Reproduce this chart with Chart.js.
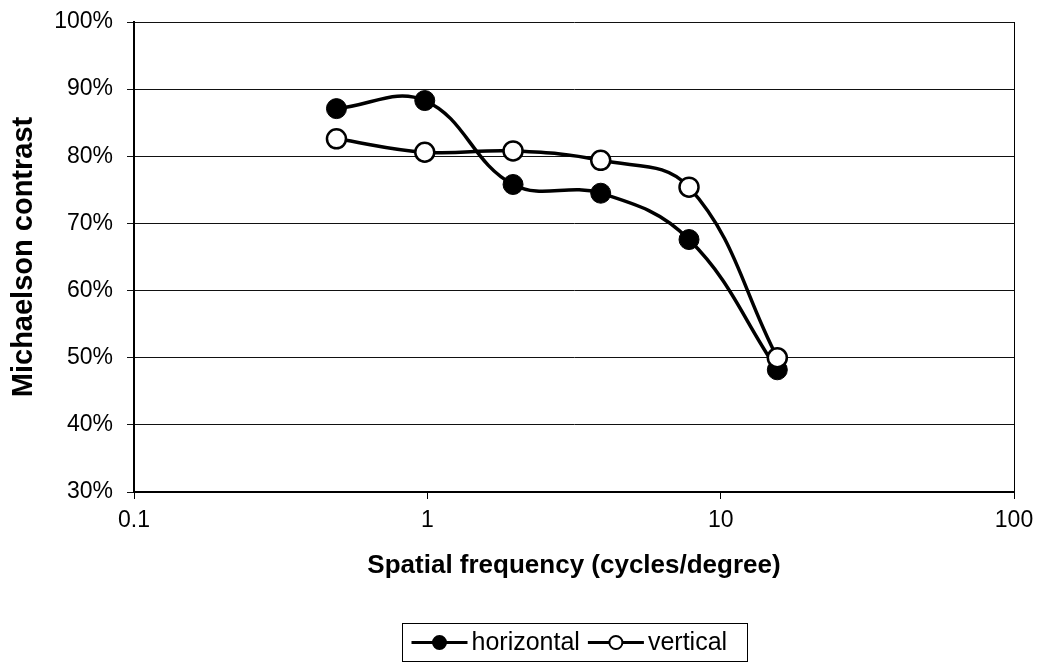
<!DOCTYPE html>
<html>
<head>
<meta charset="utf-8">
<script src="https://cdn.jsdelivr.net/npm/chart.js@4/dist/chart.umd.min.js"></script>
<style>
  html, body { margin: 0; padding: 0; background: #fff; }
  #wrap { width: 1042px; height: 669px; }
</style>
</head>
<body>
<div id="wrap"><canvas id="c" width="1042" height="669"></canvas></div>
<script>
// ---- data ----
const freqs = [0.49, 0.98, 1.96, 3.9, 7.8, 15.6];          // cycles/degree
const horizontal = [87.1, 88.3, 75.8, 74.5, 67.6, 48.2];  // % Michelson contrast
const vertical = [82.6, 80.6, 80.8, 79.4, 75.4, 50.0];
const seriesNames = ['horizontal', 'vertical'];
const xTickValues = [0.1, 1, 10, 100];
const xTickLabels = ['0.1', '1', '10', '100'];
const yMin = 30, yMax = 100, yStep = 10;
const xTitle = 'Spatial frequency (cycles/degree)';
const yTitle = 'Michaelson contrast';

const FONT = '"Liberation Sans", Arial, Helvetica, sans-serif';

const toPoints = (xs, ys) => xs.map((x, i) => ({ x: x, y: ys[i] }));

const frameAndLegend = {
  id: 'frameAndLegend',
  afterDraw(chart) {
    const ctx = chart.ctx;
    const a = chart.chartArea;
    ctx.save();
    // plot frame (right edge)
    ctx.strokeStyle = '#000';
    ctx.lineWidth = 1;
    ctx.beginPath();
    ctx.moveTo(Math.round(a.right) + 0.5, Math.round(a.top));
    ctx.lineTo(Math.round(a.right) + 0.5, Math.round(a.bottom));
    ctx.stroke();

    // legend with line + marker samples
    const ds = chart.data.datasets.slice().sort((p, q) => p.legendIndex - q.legendIndex);
    ctx.font = '25px ' + FONT;
    const seg = 56, gapText = 4, gapItem = 8, padL = 9, padR = 20;
    let total = padL + padR;
    const widths = ds.map(d => ctx.measureText(d.label).width);
    widths.forEach((w, i) => { total += seg + gapText + w + (i < ds.length - 1 ? gapItem : 0); });
    const cx = (a.left + a.right) / 2;
    const boxL = Math.round(cx - total / 2) + 0.5;
    const boxT = a.bottom + 131.5;
    const boxH = 38;
    ctx.lineWidth = 1;
    ctx.strokeStyle = '#000';
    ctx.strokeRect(boxL, boxT, Math.round(total), boxH);
    const cy = boxT + boxH / 2;
    let x = boxL + padL;
    ds.forEach((d, i) => {
      ctx.strokeStyle = '#000';
      ctx.lineWidth = 3;
      ctx.beginPath();
      ctx.moveTo(x, cy);
      ctx.lineTo(x + seg, cy);
      ctx.stroke();
      ctx.beginPath();
      ctx.arc(x + seg / 2, cy, 6.5, 0, Math.PI * 2);
      ctx.fillStyle = d.pointBackgroundColor;
      ctx.fill();
      ctx.lineWidth = 2;
      ctx.stroke();
      ctx.fillStyle = '#000';
      ctx.textBaseline = 'middle';
      ctx.textAlign = 'left';
      ctx.fillText(d.label, x + seg + gapText, cy + 1);
      x += seg + gapText + widths[i] + gapItem;
    });
    ctx.restore();
  }
};

new Chart(document.getElementById('c'), {
  type: 'scatter',
  data: {
    datasets: [
      {
        label: seriesNames[0],
        legendIndex: 0,
        data: toPoints(freqs, horizontal),
        showLine: true,
        borderColor: '#000',
        borderWidth: 3.5,
        tension: 0.4,
        pointRadius: 10,
        pointBackgroundColor: '#000',
        pointBorderColor: '#000',
        pointBorderWidth: 1,
        order: 2
      },
      {
        label: seriesNames[1],
        legendIndex: 1,
        data: toPoints(freqs, vertical),
        showLine: true,
        borderColor: '#000',
        borderWidth: 3.5,
        tension: 0.4,
        pointRadius: 9.5,
        pointBackgroundColor: '#fff',
        pointBorderColor: '#000',
        pointBorderWidth: 2.5,
        order: 1
      }
    ]
  },
  options: {
    responsive: false,
    animation: false,
    layout: { padding: { left: 0, right: 28, top: 22, bottom: 77 } },
    plugins: {
      legend: { display: false },
      tooltip: { enabled: false },
      title: { display: false }
    },
    scales: {
      x: {
        type: 'logarithmic',
        min: xTickValues[0],
        max: xTickValues[xTickValues.length - 1],
        afterBuildTicks: (scale) => { scale.ticks = xTickValues.map(v => ({ value: v, major: true })); },
        afterFit: (scale) => { scale.height = 100; },
        ticks: {
          autoSkip: false,
          maxRotation: 0,
          padding: 8,
          color: '#000',
          font: { family: FONT, size: 23 },
          callback: (v) => { const i = xTickValues.indexOf(v); return i >= 0 ? xTickLabels[i] : ''; }
        },
        grid: { display: true, drawOnChartArea: false, drawTicks: true, tickLength: 7, color: '#000', lineWidth: 1 },
        border: { display: true, color: '#000', width: 2 },
        title: {
          display: true,
          text: xTitle,
          color: '#000',
          font: { family: FONT, size: 26, weight: 'bold' },
          padding: { top: 0, bottom: 11 }
        }
      },
      y: {
        type: 'linear',
        min: yMin,
        max: yMax,
        afterFit: (scale) => { scale.width = 134; scale.paddingTop = 0; scale.paddingBottom = 0; },
        ticks: {
          stepSize: yStep,
          padding: 14,
          color: '#000',
          font: { family: FONT, size: 23 },
          callback: (v) => Math.round(v) + '%'
        },
        grid: { display: true, drawOnChartArea: true, drawTicks: true, tickLength: 7, color: '#111', lineWidth: 1 },
        border: { display: true, color: '#000', width: 2 },
        title: {
          display: true,
          text: yTitle,
          color: '#000',
          font: { family: FONT, size: 29, weight: 'bold' },
          padding: { top: 7, bottom: 0 }
        }
      }
    }
  },
  plugins: [frameAndLegend]
});
</script>
</body>
</html>
